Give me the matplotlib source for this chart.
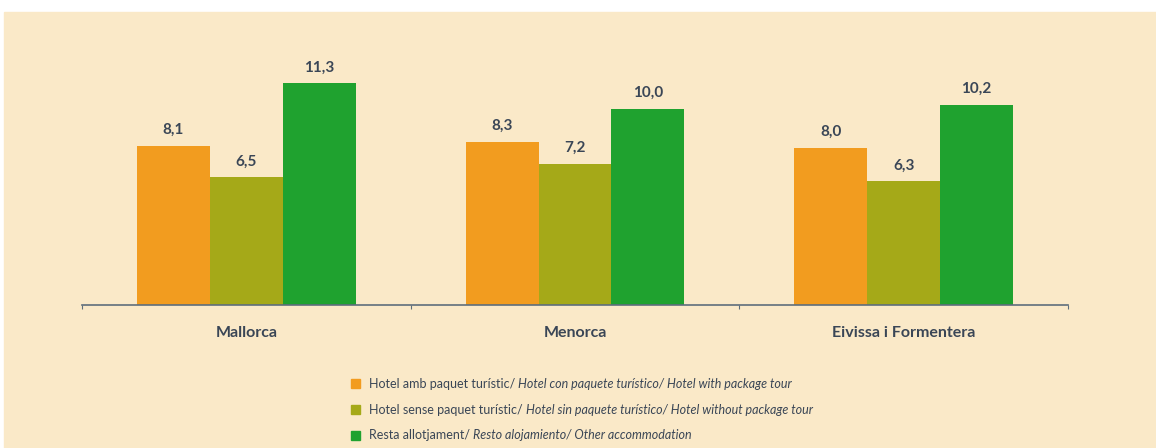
import matplotlib.pyplot as plt
import matplotlib.patches as mpatches
import numpy as np

# Tourist expenditure per day by island and accommodation type
islands = ['Mallorca', 'Menorca', 'Eivissa i Formentera']
hotel_package = [8.1, 8.3, 8.0]
hotel_no_package = [6.5, 7.2, 6.3]
other_accom = [11.3, 10.0, 10.2]

series_names = [
    ('Hotel amb paquet turístic/ ', 'Hotel con paquete turístico/ Hotel with package tour'),
    ('Hotel sense paquet turístic/ ', 'Hotel sin paquete turístico/ Hotel without package tour'),
    ('Resta allotjament/ ', 'Resto alojamiento/ Other accommodation'),
]
colors = ['#F29C1F', '#A5A918', '#1FA22F']
cream = '#FAE9C8'
txt = '#3A4656'

plt.rcParams['font.family'] = ['Lato', 'DejaVu Sans']

fig = plt.figure(figsize=(11.56, 4.48), dpi=100, facecolor='white')
# cream panel behind everything
fig.patches.append(mpatches.Rectangle((4 / 1156, 0), 1, (448 - 12) / 448,
                                      transform=fig.transFigure, color=cream, zorder=-5))

ax = fig.add_axes([82 / 1156, (448 - 305) / 448, (1068 - 82) / 1156, (305 - 40) / 448])
ax.set_facecolor('none')
ax.set_zorder(2)

x = np.arange(len(islands))
w = 0.222
series = [hotel_package, hotel_no_package, other_accom]
for i, vals in enumerate(series):
    pos = x + (i - 1) * w
    ax.bar(pos, vals, width=w, color=colors[i], zorder=2)
    for p, v in zip(pos, vals):
        ax.text(p, v + 0.45, ('%.1f' % v).replace('.', ','), ha='center', va='bottom',
                fontsize=11, fontweight='bold', color=txt)

ax.set_xlim(-0.5, 2.5)
ax.set_ylim(0, 13.5)
for s in ['top', 'right', 'left']:
    ax.spines[s].set_visible(False)
ax.spines['bottom'].set_color('#5E6E7C')
ax.spines['bottom'].set_linewidth(1.2)
ax.set_yticks([])
ax.set_xticks([-0.5, 0.5, 1.5, 2.5])
ax.set_xticklabels([])
ax.tick_params(axis='x', length=3, color='#5E6E7C', direction='out')
for i, name in enumerate(islands):
    ax.text(x[i], -1.45, name, ha='center', va='center', fontsize=11.5,
            fontweight='bold', color=txt, clip_on=False)

# legend with mixed normal / italic text
fig.canvas.draw()
renderer = fig.canvas.get_renderer()
leg_y = [384, 409.5, 435]
for i, (normal, italic) in enumerate(series_names):
    yy = 1 - leg_y[i] / 448
    fig.patches.append(mpatches.Rectangle((351 / 1156, yy - 4.5 / 448), 9 / 1156, 9 / 448,
                                          transform=fig.transFigure, color=colors[i], zorder=3))
    t1 = fig.text(369 / 1156, yy, normal, fontsize=9, color=txt, va='center')
    bb = t1.get_window_extent(renderer)
    fig.text(bb.x1 / 1156, yy, italic, fontsize=9, style='italic', color=txt, va='center')

fig.savefig('out.png', dpi=100, facecolor='white')
